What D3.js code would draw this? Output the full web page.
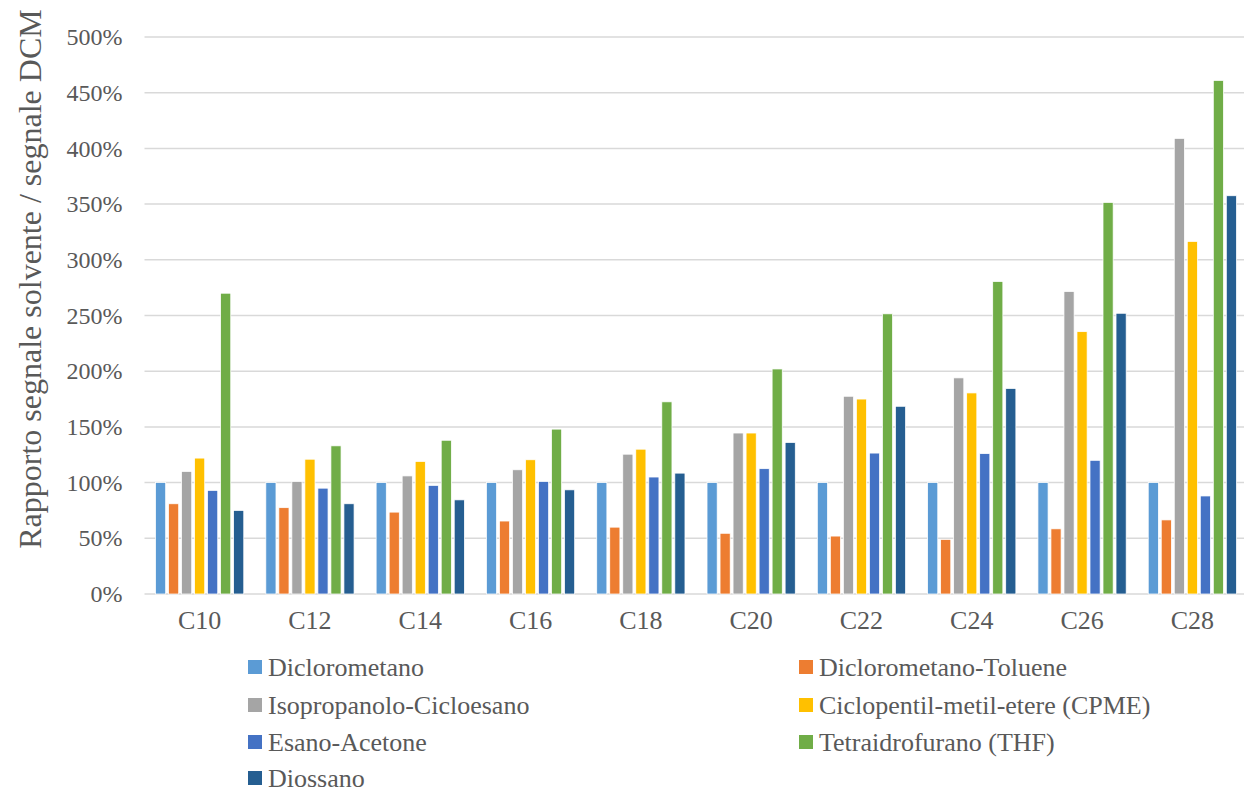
<!DOCTYPE html>
<html>
<head>
<meta charset="utf-8">
<script src="https://cdn.jsdelivr.net/npm/d3@7"></script>
<style>
  body { margin: 0; background: #fff; }
</style>
</head>
<body>
<svg id="chart" width="1244" height="794"></svg>
<script>
var categories = ["C10", "C12", "C14", "C16", "C18", "C20", "C22", "C24", "C26", "C28"];
var seriesNames = ["Diclorometano", "Diclorometano-Toluene", "Isopropanolo-Cicloesano",
  "Ciclopentil-metil-etere (CPME)", "Esano-Acetone", "Tetraidrofurano (THF)", "Diossano"];
var colors = ["#5B9BD5", "#ED7D31", "#A5A5A5", "#FFC000", "#4472C4", "#70AD47", "#255E91"];

// values in %
var diclorometano = [100, 100, 100, 100, 100, 100, 100, 100, 100, 100];
var dcmToluene    = [81, 77.5, 73.5, 65.5, 60, 54.5, 52, 49, 58.5, 66.5];
var isoCicloes    = [110, 101, 106, 111.5, 125.5, 144.5, 177.5, 194, 271.5, 409];
var cpme          = [122, 121, 119, 120.5, 130, 144.5, 175, 180.5, 235.5, 316.5];
var esanoAcetone  = [93, 95, 97.5, 101, 105, 112.5, 126.5, 126, 120, 88];
var thf           = [270, 133, 138, 148, 172.5, 202, 251.5, 280.5, 351.5, 461];
var diossano      = [75, 81, 84.5, 93.5, 108.5, 136, 168.5, 184.5, 252, 357.5];
var yTicks = [0, 50, 100, 150, 200, 250, 300, 350, 400, 450, 500];

var allSeries = [diclorometano, dcmToluene, isoCicloes, cpme, esanoAcetone, thf, diossano];

var FONT = "'Liberation Serif', 'Times New Roman', Times, serif";
var svg = d3.select("#chart");
var plot = { left: 144.5, right: 1247.5, top: 37, bottom: 594 };

var x0 = d3.scaleBand().domain(categories)
    .range([plot.left, plot.right])
    .paddingInner(0.2).paddingOuter(0.1);
var x1 = d3.scaleBand().domain(d3.range(seriesNames.length))
    .range([0, x0.bandwidth()])
    .paddingInner(0.22);
var y = d3.scaleLinear().domain([0, 500]).range([plot.bottom, plot.top]);

// gridlines
svg.append("g").selectAll("line")
    .data(yTicks)
    .enter().append("line")
    .attr("x1", plot.left)
    .attr("x2", 1244)
    .attr("y1", function (d) { return y(d); })
    .attr("y2", function (d) { return y(d); })
    .attr("stroke", "#D9D9D9")
    .attr("stroke-width", 1.5);

// y axis labels
var yAxis = d3.axisLeft(y).tickValues(yTicks)
    .tickFormat(function (d) { return d + "%"; })
    .tickSize(0).tickPadding(22);
var gy = svg.append("g")
    .attr("transform", "translate(" + plot.left + ",0)")
    .call(yAxis);
gy.attr("font-family", null);
gy.select(".domain").remove();
gy.selectAll("text")
    .style("font-family", FONT)
    .style("font-size", "24px")
    .attr("fill", "#595959");

// bars
var groups = svg.append("g").selectAll("g")
    .data(categories)
    .enter().append("g")
    .attr("transform", function (d) { return "translate(" + x0(d) + ",0)"; });

groups.selectAll("rect")
    .data(function (d, ci) {
        return allSeries.map(function (s, si) { return { si: si, v: s[ci] }; });
    })
    .enter().append("rect")
    .attr("x", function (d) { return x1(d.si); })
    .attr("y", function (d) { return y(d.v); })
    .attr("width", x1.bandwidth())
    .attr("height", function (d) { return y(0) - y(d.v); })
    .attr("fill", function (d) { return colors[d.si]; })
    .attr("stroke", "#ffffff")
    .attr("stroke-width", 0.75);

// x axis labels
var xAxis = d3.axisBottom(x0).tickSize(0).tickPadding(17);
var gx = svg.append("g")
    .attr("transform", "translate(0," + plot.bottom + ")")
    .call(xAxis);
gx.attr("font-family", null);
gx.select(".domain").remove();
gx.selectAll("text")
    .style("font-family", FONT)
    .style("font-size", "26px")
    .attr("fill", "#595959");

// axis title
svg.append("text")
    .attr("transform", "translate(41," + 279 + ") rotate(-90)")
    .attr("text-anchor", "middle")
    .style("font-family", FONT)
    .style("font-size", "32px")
    .attr("fill", "#595959")
    .text("Rapporto segnale solvente / segnale DCM");

// legend, two columns
var legendPos = [
  [248, 667], [799, 667],
  [248, 705], [799, 705],
  [248, 742], [799, 742],
  [248, 778]
];
var legend = svg.append("g").selectAll("g")
    .data(seriesNames)
    .enter().append("g")
    .attr("transform", function (d, i) { return "translate(" + legendPos[i][0] + "," + legendPos[i][1] + ")"; });
legend.append("rect")
    .attr("x", 0).attr("y", -7)
    .attr("width", 14).attr("height", 14)
    .attr("fill", function (d, i) { return colors[i]; });
legend.append("text")
    .attr("x", 20)
    .attr("dy", "0.35em")
    .style("font-family", FONT)
    .style("font-size", "26px")
    .attr("fill", "#595959")
    .text(function (d) { return d; });
</script>
</body>
</html>
